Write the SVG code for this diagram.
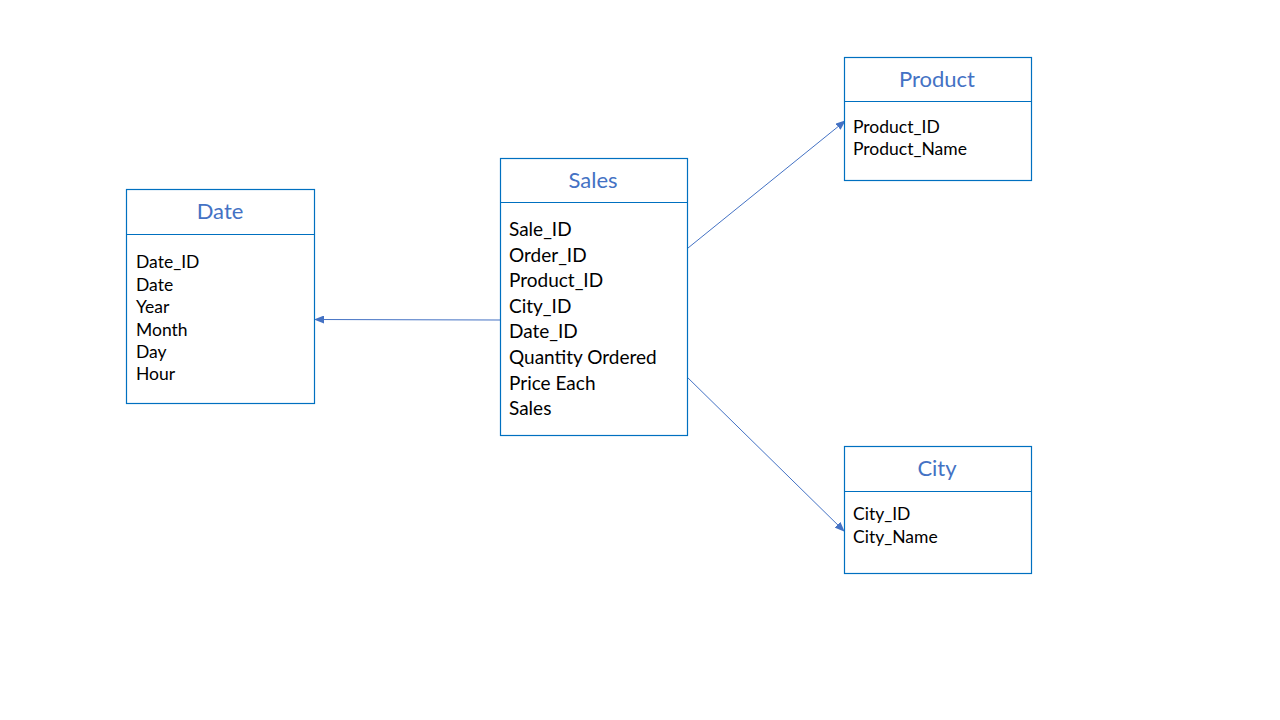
<svg xmlns="http://www.w3.org/2000/svg" width="1280" height="720" viewBox="0 0 1280 720">
<defs>
<marker id="arr" markerWidth="10" markerHeight="8" refX="9" refY="4" orient="auto" markerUnits="userSpaceOnUse">
<path d="M0,0 L10,4 L0,8 Z" fill="#4472C4"/>
</marker>
<style>
.box{fill:#fff;stroke:#0070C0;stroke-width:1.2}
.div{stroke:#0070C0;stroke-width:1.2}
.title{font-family:Lato,"Open Sans","Liberation Sans",sans-serif;fill:#4472C4;text-anchor:middle}
.item{font-family:Lato,"Open Sans","Liberation Sans",sans-serif;fill:#000}
.conn{stroke:#4472C4;stroke-width:1;fill:none;marker-end:url(#arr)}
</style>
</defs>
<rect width="1280" height="720" fill="#fff"/>
<g id="connectors">
<line class="conn" x1="500" y1="320" x2="315" y2="319.5"/>
<line class="conn" x1="688" y1="248" x2="845" y2="121"/>
<line class="conn" x1="685" y1="375" x2="844" y2="531"/>
</g>
<g id="date">
<rect class="box" x="126.5" y="189.5" width="188" height="214"/>
<line class="div" x1="126.5" y1="234.5" x2="314.5" y2="234.5"/>
<text class="title" x="220" y="219" font-size="22">Date</text>
<g class="item" font-size="17.5">
<text x="136" y="268">Date_ID</text>
<text x="136" y="291">Date</text>
<text x="136" y="313">Year</text>
<text x="136" y="336">Month</text>
<text x="136" y="358">Day</text>
<text x="136" y="380">Hour</text>
</g>
</g>
<g id="sales">
<rect class="box" x="500.5" y="158.5" width="187" height="277"/>
<line class="div" x1="500.5" y1="202.5" x2="687.5" y2="202.5"/>
<text class="title" x="593" y="188" font-size="22">Sales</text>
<g class="item" font-size="19">
<text x="509" y="236">Sale_ID</text>
<text x="509" y="262">Order_ID</text>
<text x="509" y="287">Product_ID</text>
<text x="509" y="313">City_ID</text>
<text x="509" y="338">Date_ID</text>
<text x="509" y="364">Quantity Ordered</text>
<text x="509" y="390">Price Each</text>
<text x="509" y="415">Sales</text>
</g>
</g>
<g id="product">
<rect class="box" x="844.5" y="57.5" width="187" height="123"/>
<line class="div" x1="844.5" y1="101.5" x2="1031.5" y2="101.5"/>
<text class="title" x="937" y="87" font-size="22">Product</text>
<g class="item" font-size="17.5">
<text x="853" y="133">Product_ID</text>
<text x="853" y="155">Product_Name</text>
</g>
</g>
<g id="city">
<rect class="box" x="844.5" y="446.5" width="187" height="127"/>
<line class="div" x1="844.5" y1="491.5" x2="1031.5" y2="491.5"/>
<text class="title" x="937" y="476" font-size="22">City</text>
<g class="item" font-size="17.5">
<text x="853" y="520">City_ID</text>
<text x="853" y="543">City_Name</text>
</g>
</g>
</svg>
